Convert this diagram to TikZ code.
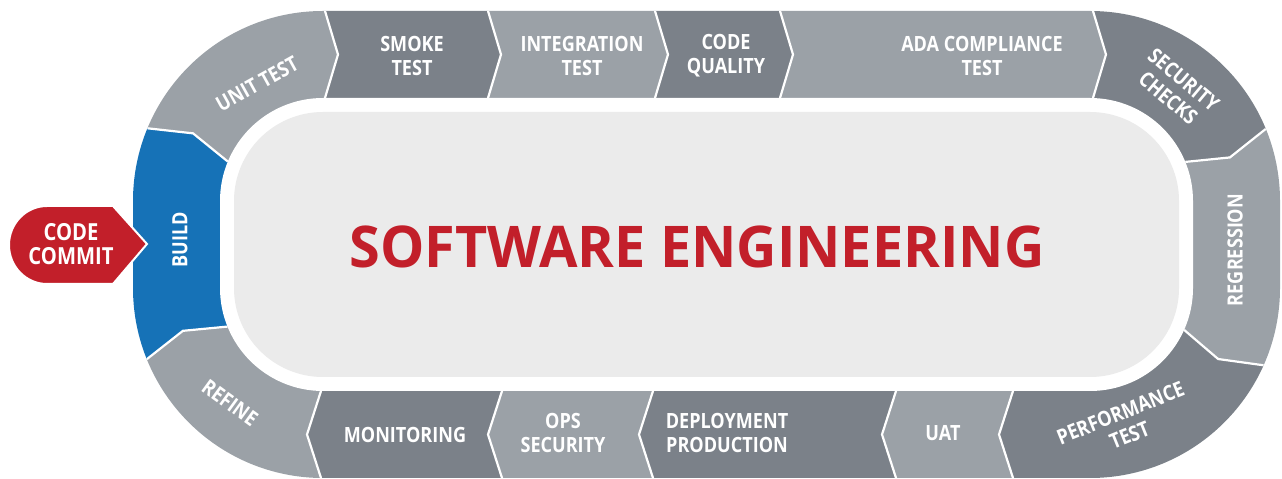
\documentclass[tikz,border=0pt]{standalone}
\usepackage{fontspec}
\usetikzlibrary{calc}
\newfontfamily\labelfont{Open Sans}[FakeStretch=0.86]
\newfontfamily\titlefont{Open Sans}[FakeStretch=0.97]
\definecolor{segdark}{HTML}{7B8189}
\definecolor{seglight}{HTML}{9BA1A7}
\definecolor{buildblue}{HTML}{1672B7}
\definecolor{commitred}{HTML}{C21F2A}
\definecolor{innergray}{HTML}{EBEBEB}
\tikzset{
  seglabel/.style={text=white, font=\labelfont\bfseries\fontsize{21}{24}\selectfont, align=center, inner sep=0pt},
  sepline/.style={white, line width=2.2pt, line join=miter},
}
\newcommand{\segment}[3]{\fill[#3] (#1f) -- (#1o) -- (#1t) -- (#1i) -- (mid) -- (#2i) -- (#2t) -- (#2o) -- (#2f) -- cycle;}
\begin{document}
\begin{tikzpicture}[x=1pt,y=1pt]
    \useasboundingbox (0,0) rectangle (1282,479);

    % corner centres of the track
    \coordinate (ctl) at (323,278);
    \coordinate (cbl) at (323,191);
    \coordinate (ctr) at (1090,278);
    \coordinate (cbr) at (1090,191);
    \coordinate (mid) at (700,235);

    % separators: outer, tip, inner, far
    \foreach \n/\c/\a in {ul/ctl/157.5, ll/cbl/202, ur/ctr/22.3, lr/cbr/-24}{
        \coordinate (\n o) at ($(\c)+(\a:190)$);
        \coordinate (\n t) at ($(\c)+({\a-5}:146.5)$);
        \coordinate (\n i) at ($(\c)+(\a:103)$);
        \coordinate (\n f) at ($(\c)+(\a:500)$);
    }
    \foreach \n/\x in {t1/325, t2/488, t3/655, t4/780, t5/1093}{
        \coordinate (\n o) at (\x,468);
        \coordinate (\n t) at (\x+13,424.5);
        \coordinate (\n i) at (\x,381);
        \coordinate (\n f) at (\x,800);
    }
    \foreach \n/\x in {b1/1013, b2/896, b3/653, b4/502, b5/321}{
        \coordinate (\n o) at (\x,1);
        \coordinate (\n t) at (\x-14,44.5);
        \coordinate (\n i) at (\x,88);
        \coordinate (\n f) at (\x,-320);
    }

    \begin{scope}
        \clip[rounded corners=190pt] (133,1) rectangle (1280,468);
        \segment{ll}{ul}{buildblue}
        \segment{ul}{t1}{seglight}
        \segment{t1}{t2}{segdark}
        \segment{t2}{t3}{seglight}
        \segment{t3}{t4}{segdark}
        \segment{t4}{t5}{seglight}
        \segment{t5}{ur}{segdark}
        \segment{ur}{lr}{seglight}
        \segment{lr}{b1}{segdark}
        \segment{b1}{b2}{seglight}
        \segment{b2}{b3}{segdark}
        \segment{b3}{b4}{seglight}
        \segment{b4}{b5}{segdark}
        \segment{b5}{ll}{seglight}
        \foreach \n in {ul,ll,ur,lr,t1,t2,t3,t4,t5,b1,b2,b3,b4,b5}
            \draw[sepline] (\n o) -- (\n t) -- (\n i);
    \end{scope}

    \fill[white, rounded corners=103pt] (220,88) rectangle (1193,381);
    \fill[innergray, rounded corners=89pt] (234,102) rectangle (1179,367);

    % labels on the track
    \node[seglabel, rotate=29] (unittest) at (257,395) {UNIT TEST};
    \node[seglabel] (smoke) at (412,423) {SMOKE\\TEST};
    \node[seglabel] (integration) at (582,423) {INTEGRATION\\TEST};
    \node[seglabel] (quality) at (726,423) {CODE\\QUALITY};
    \node[seglabel] (ada) at (982,423) {ADA COMPLIANCE\\TEST};
    \node[seglabel, rotate=-40] (security) at (1176,390) {SECURITY\\CHECKS};
    \node[seglabel, rotate=90] (regression) at (1235,229) {REGRESSION};
    \node[seglabel, rotate=22] (performance) at (1125,55) {PERFORMANCE\\TEST};
    \node[seglabel] (uat) at (943,46) {UAT};
    \node[seglabel] (deployment) at (727,46) {DEPLOYMENT\\PRODUCTION};
    \node[seglabel] (ops) at (563,46) {OPS\\SECURITY};
    \node[seglabel] (monitoring) at (405,44) {MONITORING};
    \node[seglabel, rotate=-36] (refine) at (230,76) {REFINE};
    \node[seglabel, rotate=90] (build) at (180,239) {BUILD};

    % code commit tag
    \fill[commitred, draw=white, line width=2pt, line join=miter]
        (147,235) -- (113,273) -- (47,273) arc[start angle=90, end angle=270, x radius=38, y radius=39] -- (113,195) -- cycle;
    \node[seglabel, font=\labelfont\bfseries\fontsize{23.5}{24}\selectfont] (commit) at (71,235) {CODE\\COMMIT};

    \node[text=commitred, font=\titlefont\bfseries\fontsize{57.5}{60}\selectfont, inner sep=0pt] (title) at (697,232.5) {SOFTWARE ENGINEERING};
\end{tikzpicture}
\end{document}
